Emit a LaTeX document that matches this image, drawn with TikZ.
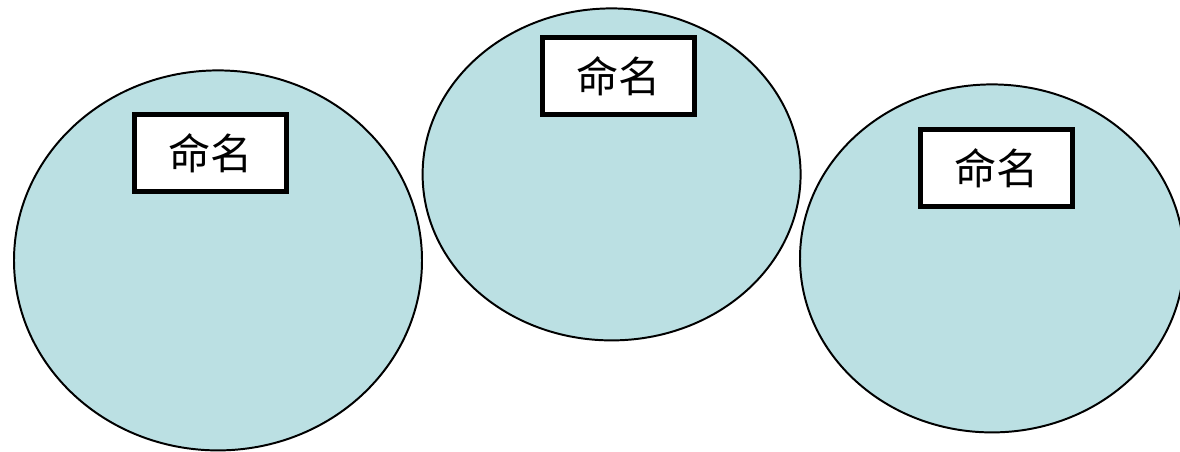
\documentclass[tikz,border=0pt]{standalone}
\usepackage{fontspec}
\newfontfamily\cjk{Noto Sans CJK SC}
\usetikzlibrary{shapes.geometric, positioning}
\definecolor{PaleTeal}{RGB}{187, 224, 227}
\definecolor{Ink}{RGB}{0, 0, 0}

\begin{document}
\begin{tikzpicture}[
        blob/.style={draw=Ink, line width=1.4pt, fill=PaleTeal, ellipse, inner sep=0pt},
        namebox/.style={draw=Ink, line width=3.6pt, fill=white, minimum width=3.8cm, minimum height=1.925cm, inner sep=0pt, font=\cjk\fontsize{30}{34}\selectfont}
    ]
        \useasboundingbox (0,0) rectangle (29.5,-11.275);
        \node[blob, minimum width=10.2cm, minimum height=9.5cm] (left) at (5.45,-6.51) {};
        \node[blob, minimum width=9.45cm, minimum height=8.3cm] (middle) at (15.29,-4.36) {};
        \node[blob, minimum width=9.6cm, minimum height=8.7cm] (right) at (24.8,-6.46) {};
        \node[namebox] (leftname) at (5.26,-3.83) {命名};
        \node[namebox] (middlename) at (15.46,-1.9) {命名};
        \node[namebox] (rightname) at (24.91,-4.21) {命名};
    \end{tikzpicture}
\end{document}
